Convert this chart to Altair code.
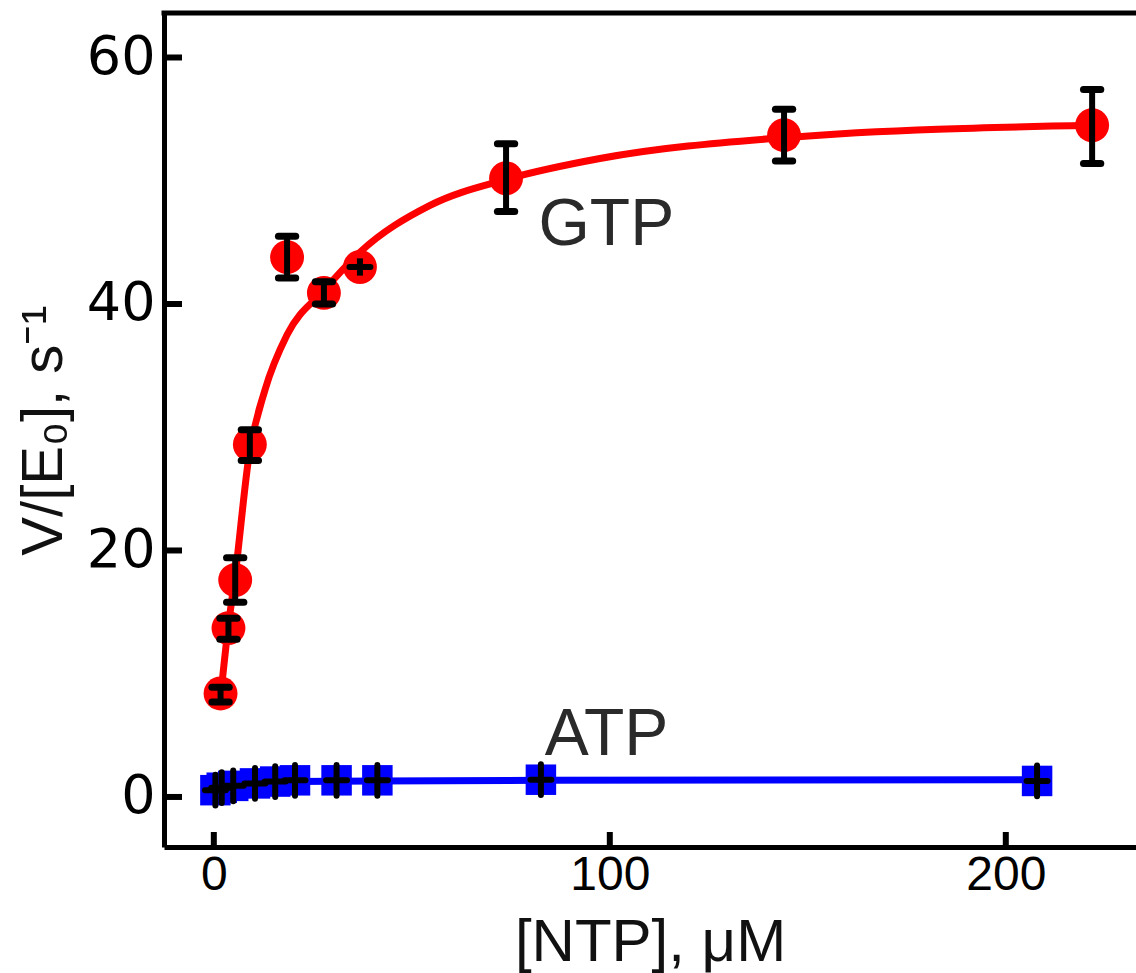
import altair as alt
import pandas as pd

# ---- data ----
gtp_x = [1.7, 3.7, 5.4, 9.1, 18.5, 27.8, 36.9, 73.8, 144.0, 221.8]
gtp_y = [8.4, 13.7, 17.6, 28.6, 43.8, 40.9, 43.0, 50.2, 53.7, 54.5]
gtp_lo = [7.7, 12.8, 15.8, 27.3, 42.1, 40.0, 42.3, 47.5, 51.6, 51.4]
gtp_hi = [8.9, 14.5, 19.4, 29.8, 45.5, 41.8, 43.7, 53.0, 55.8, 57.4]

atp_x = [0.4, 2.0, 4.9, 10.4, 15.5, 20.5, 31.0, 41.3, 82.6, 207.9]
atp_y = [0.55, 0.75, 0.9, 1.1, 1.25, 1.35, 1.35, 1.35, 1.4, 1.3]
atp_lo = [-0.7, -0.5, -0.35, -0.15, 0.0, 0.1, 0.1, 0.1, 0.15, 0.05]
atp_hi = [1.8, 2.0, 2.15, 2.35, 2.5, 2.6, 2.6, 2.6, 2.65, 2.55]

gtp_fit_x = [1.8, 3.6, 5.4, 8.9, 12.9, 18.5, 27.8, 36.9, 54.6, 73.8, 97.5, 144.0, 221.8]
gtp_fit_y = [8.4, 13.7, 18.0, 27.7, 33.0, 37.5, 41.1, 44.2, 48.0, 50.1, 51.8, 53.5, 54.5]

atp_fit_x = [0.4, 2.0, 5.0, 10.0, 15.0, 20.0, 41.0, 83.0, 208.0]
atp_fit_y = [0.45, 0.7, 0.95, 1.1, 1.2, 1.25, 1.3, 1.35, 1.4]

x_ticks = [0, 100, 200]
y_ticks = [0, 20, 40, 60]

label_text = ["GTP", "ATP"]
label_x = [82.0, 83.6]
label_y = [44.8, 3.4]

# ---- geometry ----
W, H = 972, 834
X_DOM = [-12.58, 232.88]
Y_DOM = [-4.06, 63.61]
xs = alt.Scale(domain=X_DOM, nice=False, zero=False)
ys = alt.Scale(domain=Y_DOM, nice=False, zero=False)

xaxis = alt.Axis(values=x_ticks, ticks=False, grid=False, domainWidth=5, domainColor="black",
                 labelFont="Liberation Sans", labelFontSize=48,
                 labelPadding=4, labelColor="black",
                 title="[NTP], μM", titleFont="Liberation Sans", titleFontSize=60,
                 titleFontWeight="normal", titleColor="#111111", titleY=113,
                 titleBaseline="alphabetic")
yaxis = alt.Axis(values=y_ticks, ticks=False, grid=False, domainWidth=5, domainColor="black",
                 labelFont="DejaVu Sans", labelFontSize=54, labelPadding=9, labelColor="black",
                 title="V/[E₀], s⁻¹", titleFont="Liberation Sans", titleFontSize=58,
                 titleFontWeight="normal", titleColor="#111111", titleAngle=270,
                 titleX=-120, titleY=417, titleAlign="center", titleBaseline="middle")


def X(f="x"):
    return alt.X(f, type="quantitative", scale=xs, axis=xaxis)


def Y(f="y"):
    return alt.Y(f, type="quantitative", scale=ys, axis=yaxis)


gtp = pd.DataFrame({"x": gtp_x, "y": gtp_y, "lo": gtp_lo, "hi": gtp_hi})
atp = pd.DataFrame({"x": atp_x, "y": atp_y, "lo": atp_lo, "hi": atp_hi})
gfit = pd.DataFrame({"x": gtp_fit_x, "y": gtp_fit_y})
afit = pd.DataFrame({"x": atp_fit_x, "y": atp_fit_y})
labels = pd.DataFrame({"x": label_x, "y": label_y, "t": label_text})
yt = pd.DataFrame({"y": y_ticks})
xt = pd.DataFrame({"x": x_ticks})

capped = [i for i in range(len(gtp_x)) if i != 6]
gcaps = pd.concat([
    pd.DataFrame({"x": [gtp_x[i] for i in capped], "y": [gtp_lo[i] for i in capped]}),
    pd.DataFrame({"x": [gtp_x[i] for i in capped], "y": [gtp_hi[i] for i in capped]}),
])
gcross = pd.DataFrame({"x": [gtp_x[6]], "y": [gtp_y[6]]})

blue_line = alt.Chart(afit).mark_line(color="#0000FF", strokeWidth=7, interpolate="monotone").encode(x=X(), y=Y())
blue_sq = alt.Chart(atp).mark_square(color="#0000FF", size=930, opacity=1).encode(x=X(), y=Y())
atp_err = alt.Chart(atp).mark_rule(color="black", strokeWidth=6, strokeCap="round").encode(
    x=X(), y=Y("lo"), y2=alt.Y2("hi"))
atp_bar = alt.Chart(atp).mark_point(shape="stroke", filled=False, color="black", strokeWidth=6,
                                    size=440, opacity=1, strokeCap="round").encode(x=X(), y=Y())

red_line = alt.Chart(gfit).mark_line(color="#FF0000", strokeWidth=7, interpolate="monotone").encode(x=X(), y=Y())
red_pts = alt.Chart(gtp).mark_circle(color="#FF0000", size=1150, opacity=1).encode(x=X(), y=Y())
gtp_err = alt.Chart(gtp).mark_rule(color="black", strokeWidth=6).encode(x=X(), y=Y("lo"), y2=alt.Y2("hi"))
gtp_caps = alt.Chart(gcaps).mark_point(shape="stroke", filled=False, color="black", strokeWidth=7,
                                       size=300, opacity=1, strokeCap="round").encode(x=X(), y=Y())
gtp_cross = alt.Chart(gcross).mark_point(shape="stroke", filled=False, color="black", strokeWidth=6,
                                         size=440, opacity=1, strokeCap="round").encode(x=X(), y=Y())

txt = alt.Chart(labels).mark_text(align="left", baseline="alphabetic", font="Liberation Sans",
                                  fontSize=66, color="#2a2a2a").encode(x=X(), y=Y(), text="t:N")

ytick = alt.Chart(yt).mark_rule(color="black", strokeWidth=6).encode(
    y=Y(), x=alt.value(0), x2=alt.value(18))
xtick = alt.Chart(xt).mark_rule(color="black", strokeWidth=6).encode(
    x=X(), y=alt.value(H), y2=alt.value(H - 15))
top = alt.Chart(alt.Data(values=[{"a": 1}])).mark_rule(color="black", strokeWidth=5).encode(
    x=alt.value(-2.5), x2=alt.value(W + 20), y=alt.value(0))

chart = alt.layer(
    blue_line, blue_sq, atp_err, atp_bar,
    red_line, red_pts, gtp_err, gtp_caps, gtp_cross,
    txt, ytick, xtick, top,
).properties(
    width=W, height=H,
    autosize=alt.AutoSizeParams(type="none"),
    padding={"left": 164, "top": 13, "right": 0, "bottom": 126},
    background="white",
).configure_view(strokeWidth=0)

chart.save("out.html", embed_options={"renderer": "svg", "actions": False})
